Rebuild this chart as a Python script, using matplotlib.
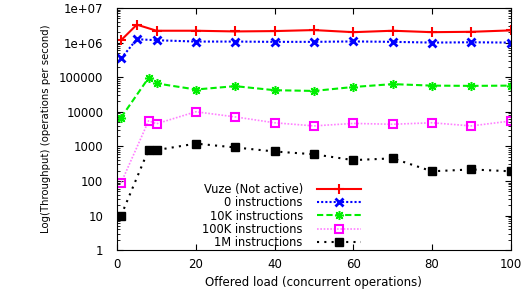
import numpy as np
import matplotlib
matplotlib.use('Agg')
import matplotlib.pyplot as plt
from matplotlib.ticker import LogLocator, FixedLocator

plt.rcParams['font.family'] = ['DejaVu Sans']

x_a = [1, 5, 10, 20, 30, 40, 50, 60, 70, 80, 90, 100]
x_b = [1, 8, 10, 20, 30, 40, 50, 60, 70, 80, 90, 100]

vuze = [1.17e6, 3.3e6, 2.2e6, 2.2e6, 2.1e6, 2.15e6, 2.3e6, 2.0e6, 2.2e6, 2.0e6, 2.05e6, 2.25e6]
instr_0 = [3.5e5, 1.25e6, 1.17e6, 1.07e6, 1.07e6, 1.05e6, 1.05e6, 1.08e6, 1.05e6, 1.0e6, 1.02e6, 1.0e6]
instr_10k = [6800, 96000, 66000, 44000, 55000, 42000, 40000, 52000, 63000, 57000, 56000, 57000]
instr_100k = [88, 5500, 4500, 10000, 7100, 4800, 3900, 4600, 4350, 4800, 3900, 5400]
instr_1m = [10, 810, 780, 1200, 930, 710, 590, 400, 450, 190, 215, 190]

labels = ['Vuze (Not active)', '0 instructions', '10K instructions',
          '100K instructions', '1M instructions']

fig = plt.figure(figsize=(5.23, 2.96), dpi=100)
ax = fig.add_axes([0.224, 0.155, 0.7525, 0.818])

ax.plot(x_a, vuze, color='#ff0000', lw=1.5, marker='+', ms=7, mew=1.5, label=labels[0])
ax.plot(x_a, instr_0, color='#0000ff', lw=1.5, ls=(0, (1, 1)), marker='x', ms=5.5, mew=2, label=labels[1])
ax.plot(x_b, instr_10k, color='#00ee00', lw=1.5, ls=(0, (3, 1.5)), marker=(8, 2, 0), ms=6.5, mew=1.1,
        label=labels[2])
ax.plot(x_b, instr_100k, color='#ff80ff', lw=1.2, ls=(0, (1, 1)), marker='s', ms=6, mew=1.5,
        mec='#ff00ff', mfc='none', label=labels[3])
ax.plot(x_b, instr_1m, color='black', lw=1.5, ls=(0, (1, 2.5)), marker='s', ms=5.5, mec='black',
        mfc='black', label=labels[4])

ax.set_yscale('log')
ax.set_xlim(0, 100)
ax.set_ylim(1, 1e7)
ax.xaxis.set_major_locator(FixedLocator([0, 20, 40, 60, 80, 100]))
yt = [1, 10, 100, 1000, 10000, 100000, 1e6, 1e7]
ax.yaxis.set_major_locator(FixedLocator(yt))
ax.set_yticklabels(['1', '10', '100', '1000', '10000', '100000', '1e+06', '1e+07'])
ax.yaxis.set_minor_locator(LogLocator(base=10, subs=np.arange(2, 10), numticks=20))
ax.yaxis.set_minor_formatter(plt.NullFormatter())
ax.tick_params(which='both', direction='in', top=True, right=True, labelsize=8.5)
ax.tick_params(axis='y', pad=10)
ax.tick_params(axis='x', pad=6)
ax.tick_params(which='major', length=4)
ax.tick_params(which='minor', length=2)

ax.set_xlabel('Offered load (concurrent operations)', fontsize=8.5, labelpad=3)
ax.set_ylabel('Log(Throughput) (operations per second)', fontsize=7.3, labelpad=6)

ax.legend(loc='lower right', bbox_to_anchor=(0.633, -0.02), frameon=False, markerfirst=False,
          fontsize=8.3, handlelength=3.8, borderpad=0, labelspacing=0.03, handletextpad=1.2)

fig.savefig('out.png', dpi=100)
